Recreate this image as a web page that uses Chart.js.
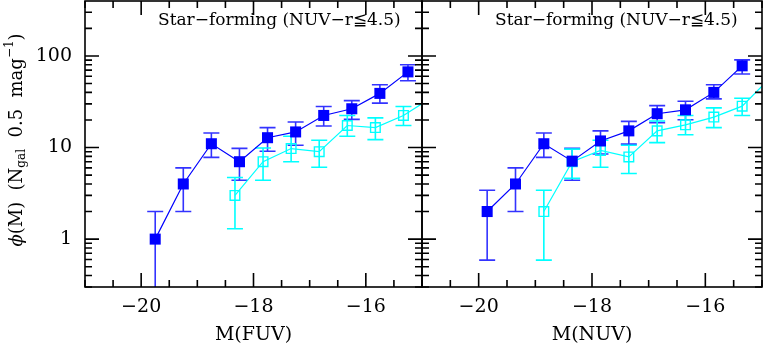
<!DOCTYPE html>
<html>
<head>
<meta charset="utf-8">
<script src="https://cdn.jsdelivr.net/npm/chart.js@4.4.0/dist/chart.umd.min.js"></script>
<style>
  body { margin: 0; background: #fff; }
  .wrap { position: relative; width: 763px; height: 347px; }
  .wrap canvas { position: absolute; left: 0; top: 0; }
</style>
</head>
<body>
<div class="wrap">
  <canvas id="fuv" width="763" height="347"></canvas>
  <canvas id="nuv" width="763" height="347"></canvas>
</div>
<script>
// FUV panel - filled squares
const fuvMag = [-19.75, -19.25, -18.75, -18.25, -17.75, -17.25, -16.75, -16.25, -15.75, -15.25];
const fuvPhi = [1.0, 4.0, 11.0, 7.0, 12.8, 14.8, 22.4, 26.5, 39, 67];
const fuvHi  = [2.0, 6.0, 14.4, 9.8, 16.5, 19, 28, 32.5, 48.5, 80];
const fuvLo  = [0, 2.0, 7.8, 4.4, 9.1, 10.6, 17.2, 20.3, 30.5, 53.6];
// FUV panel - open squares
const fuvOpenMag = [-18.33, -17.83, -17.33, -16.83, -16.33, -15.83, -15.33, -14.83];
const fuvOpenPhi = [3.0, 7.0, 9.75, 9.0, 17.4, 16.5, 22.4, 35];
const fuvOpenHi  = [4.7, 9.9, 13.3, 12, 22.4, 21.1, 28, 42];
const fuvOpenLo  = [1.3, 4.4, 7.0, 6.1, 13.3, 12.2, 17.4, 28];

// NUV panel - filled squares
const nuvMag = [-19.85, -19.35, -18.85, -18.35, -17.85, -17.35, -16.85, -16.35, -15.85, -15.35];
const nuvPhi = [2.0, 4.0, 11.0, 7.1, 11.8, 15.2, 23.4, 25.8, 40, 78];
const nuvHi  = [3.42, 6.0, 14.4, 9.8, 15.2, 19.3, 28.7, 32, 48.5, 90.5];
const nuvLo  = [0.59, 2.0, 7.8, 4.4, 8.5, 10.9, 18.7, 20.1, 34, 63.4];
// NUV panel - open squares
const nuvOpenMag = [-18.85, -18.35, -17.85, -17.35, -16.85, -16.35, -15.85, -15.35, -14.85];
const nuvOpenPhi = [2.0, 7.0, 9.3, 7.9, 15.2, 17.7, 21.5, 28.3, 58];
const nuvOpenHi  = [3.42, 9.6, 12, 10.6, 19.5, 22.4, 27.1, 34.5, 70];
const nuvOpenLo  = [0.59, 4.6, 6.1, 5.2, 11.3, 13.8, 16.5, 22.4, 48];

// axes
const xTickLabels = [-20, -18, -16];
const yTickLabels = [1, 10, 100];
const panelTitle = 'Star\u2212forming (NUV\u2212r\u22664.5)';

const BLUE = '#0000ff';
const CYAN = '#00ffff';
const SERIF = "'DejaVu Serif', 'Liberation Serif', serif";

const xy = (xs, ys) => xs.map((x, i) => ({ x: x, y: ys[i] }));

// error bars, drawn under the markers
const errorBars = {
  id: 'errorBars',
  beforeDatasetsDraw(chart) {
    const { ctx, chartArea: a, scales: { x, y } } = chart;
    ctx.save();
    ctx.beginPath();
    ctx.rect(a.left, a.top, a.right - a.left, a.bottom - a.top);
    ctx.clip();
    chart.data.datasets.forEach(ds => {
      ctx.strokeStyle = ds.errColor;
      ctx.lineWidth = 1.6;
      ds.data.forEach((p, i) => {
        const px = x.getPixelForValue(p.x);
        const top = y.getPixelForValue(ds.errHi[i]);
        const bot = ds.errLo[i] > 0 ? y.getPixelForValue(ds.errLo[i]) : a.bottom + 5;
        ctx.beginPath();
        ctx.moveTo(px, top); ctx.lineTo(px, bot);
        ctx.moveTo(px - 8, top); ctx.lineTo(px + 8, top);
        if (ds.errLo[i] > 0) { ctx.moveTo(px - 8, bot); ctx.lineTo(px + 8, bot); }
        ctx.stroke();
      });
    });
    ctx.restore();
  }
};

// box, inward ticks and panel label
const frame = {
  id: 'frame',
  afterDraw(chart) {
    const { ctx, chartArea: a, scales: { x, y } } = chart;
    ctx.save();
    ctx.strokeStyle = '#000';
    ctx.lineWidth = 1.6;
    ctx.strokeRect(a.left, a.top, a.right - a.left, a.bottom - a.top);
    ctx.beginPath();
    for (let v = -21; v <= -15; v += 0.5) {
      const len = xTickLabels.includes(v) ? 14 : 7;
      const px = x.getPixelForValue(v);
      ctx.moveTo(px, a.bottom); ctx.lineTo(px, a.bottom - len);
      ctx.moveTo(px, a.top); ctx.lineTo(px, a.top + len);
    }
    [0.1, 1, 10, 100].forEach(dec => {
      for (let m = 1; m <= 9; m++) {
        const v = dec * m;
        if (v < y.min || v > y.max) continue;
        const len = m === 1 ? 14 : 7;
        const py = y.getPixelForValue(v);
        ctx.moveTo(a.left, py); ctx.lineTo(a.left + len, py);
        ctx.moveTo(a.right, py); ctx.lineTo(a.right - len, py);
      }
    });
    ctx.stroke();
    ctx.fillStyle = '#000';
    ctx.font = '17px ' + SERIF;
    ctx.textBaseline = 'alphabetic';
    ctx.textAlign = 'left';
    ctx.fillText(panelTitle, a.left + 73, 25);
    ctx.restore();
  }
};

// y title with sub/superscripts
const yTitle = {
  id: 'yTitle',
  afterDraw(chart) {
    const ctx = chart.ctx;
    const big = '18px ' + SERIF, small = '12px ' + SERIF;
    const parts = [
      { t: '\u03d5', f: 'italic 18px ' + SERIF, dy: 0 },
      { t: '(M)  (N', f: big, dy: 0 },
      { t: 'gal', f: small, dy: 5 },
      { t: '  0.5  mag', f: big, dy: 0 },
      { t: '\u22121', f: small, dy: -7 },
      { t: ')', f: big, dy: 0 }
    ];
    ctx.save();
    let total = 0;
    parts.forEach(p => { ctx.font = p.f; p.w = ctx.measureText(p.t).width; total += p.w; });
    ctx.translate(17, 140);
    ctx.rotate(-Math.PI / 2);
    ctx.fillStyle = '#000';
    ctx.textBaseline = 'middle';
    let cx = -total / 2;
    parts.forEach(p => { ctx.font = p.f; ctx.fillText(p.t, cx, p.dy); cx += p.w; });
    ctx.restore();
  }
};

function makePanel(id, xTitle, filled, open, showY) {
  return new Chart(document.getElementById(id), {
    type: 'line',
    data: {
      datasets: [
        {
          data: xy(filled[0], filled[1]), errHi: filled[2], errLo: filled[3],
          errColor: 'rgba(0,0,255,0.8)',
          borderColor: BLUE, backgroundColor: BLUE, borderWidth: 1.2,
          pointStyle: 'rect', pointRadius: 7.8, pointBorderWidth: 0, clip: 0
        },
        {
          data: xy(open[0], open[1]), errHi: open[2], errLo: open[3],
          errColor: CYAN,
          borderColor: CYAN, backgroundColor: 'rgba(0,0,0,0)', borderWidth: 1.2,
          pointStyle: 'rect', pointRadius: 6.8, pointBorderWidth: 1.4, clip: 0
        }
      ]
    },
    options: {
      responsive: false,
      animation: false,
      layout: { autoPadding: false, padding: { left: 0, right: showY ? 763 - 422 : 1, top: 1, bottom: 0 } },
      plugins: { legend: { display: false }, tooltip: { enabled: false } },
      scales: {
        x: {
          type: 'linear', min: -21, max: -15,
          grid: { display: false, drawTicks: false }, border: { display: false },
          afterBuildTicks: s => { s.ticks = xTickLabels.map(v => ({ value: v })); },
          ticks: {
            color: '#000', padding: 9, maxRotation: 0,
            font: { family: SERIF, size: 19 },
            callback: v => '\u2212' + Math.abs(v)
          },
          title: {
            display: true, text: xTitle, color: '#000',
            font: { family: SERIF, size: 19 }, padding: { top: 0, bottom: 1 }
          },
          afterFit: s => { s.height = 60; s.paddingLeft = 0; s.paddingRight = 0; }
        },
        y: {
          type: 'logarithmic', min: 0.316, max: 398,
          grid: { display: false, drawTicks: false }, border: { display: false },
          afterBuildTicks: s => { s.ticks = yTickLabels.map(v => ({ value: v })); },
          ticks: {
            display: showY, color: '#000', padding: 13,
            font: { family: SERIF, size: 19 },
            callback: v => String(v)
          },
          afterFit: s => { s.width = showY ? 85 : 422; s.paddingTop = 0; s.paddingBottom = 0; }
        }
      }
    },
    plugins: showY ? [errorBars, frame, yTitle] : [errorBars, frame]
  });
}

makePanel('fuv', 'M(FUV)', [fuvMag, fuvPhi, fuvHi, fuvLo], [fuvOpenMag, fuvOpenPhi, fuvOpenHi, fuvOpenLo], true);
makePanel('nuv', 'M(NUV)', [nuvMag, nuvPhi, nuvHi, nuvLo], [nuvOpenMag, nuvOpenPhi, nuvOpenHi, nuvOpenLo], false);
</script>
</body>
</html>
